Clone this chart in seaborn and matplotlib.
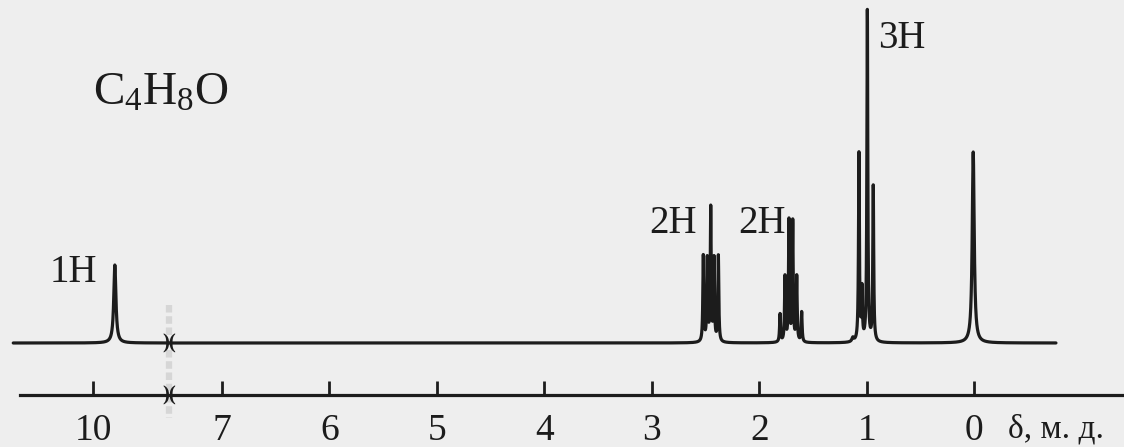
import numpy as np
import pandas as pd
import matplotlib
matplotlib.use("Agg")
import matplotlib.pyplot as plt
import seaborn as sns

# ---------------- data ----------------
# peak list of the 1H NMR spectrum: position (ppm), height (arb. units), half width (ppm)
peak_ppm    = [9.80, 2.521, 2.484, 2.452, 2.421, 2.381,
               1.807, 1.761, 1.724, 1.689, 1.652, 1.606,
               1.13, 1.073, 1.045, 0.995, 0.940, 0.01, -0.045]
peak_height = [78, 86, 82, 133, 82, 86,
               28, 65, 121, 120, 65, 30,
               4, 188, 50, 331, 155, 191, 0]
peak_hwhm   = [0.012, 0.005, 0.005, 0.005, 0.005, 0.005,
               0.005, 0.005, 0.005, 0.005, 0.005, 0.005,
               0.01, 0.005, 0.005, 0.005, 0.005, 0.011, 0.01]

# spectrum range (ppm) and the broken part of the axis
spec_ppm_max, spec_ppm_min = 10.745, -0.76
break_lo, break_hi = 7.493, 9.298          # region removed from the axis

tick_ppm = [10, 7, 6, 5, 4, 3, 2, 1, 0]
tick_labels = ["10", "7", "6", "5", "4", "3", "2", "1", "0"]
axis_label = "δ, м. д."
formula = "C$_4$H$_8$O"

multiplet_labels = ["1H", "2H", "2H", "3H"]
multiplet_label_ppm = [8.377 + (break_hi - break_lo), 2.806, 1.975, 0.675]
multiplet_label_y = [61, 110, 110, 295]

# ---------------- helpers ----------------
shift = break_hi - break_lo


def to_axis(ppm):
    ppm = np.asarray(ppm, dtype=float)
    return np.where(ppm >= break_hi, ppm - shift, ppm)


def spectrum(ppm_grid):
    y = np.zeros_like(ppm_grid)
    for p, h, w in zip(peak_ppm, peak_height, peak_hwhm):
        y += h / (1.0 + ((ppm_grid - p) / w) ** 2)
    return y


seg_hi = np.arange(spec_ppm_max, break_hi, -0.0005)
seg_lo = np.arange(break_lo, spec_ppm_min, -0.0005)
df = pd.concat([
    pd.DataFrame({"ppm": seg_hi, "segment": 0}),
    pd.DataFrame({"ppm": seg_lo, "segment": 1}),
], ignore_index=True)
df["u"] = to_axis(df["ppm"])
df["intensity"] = spectrum(df["ppm"].to_numpy())

# ---------------- style ----------------
sns.set_theme(style="white")
bg = "#eeeeee"
ink = "#1c1c1c"
plt.rcParams["font.family"] = ["Liberation Serif", "DejaVu Serif"]
plt.rcParams["mathtext.fontset"] = "custom"
plt.rcParams["mathtext.rm"] = "Liberation Serif"
plt.rcParams["mathtext.it"] = "Liberation Serif"

W, H = 1124, 447
fig = plt.figure(figsize=(W / 100, H / 100), dpi=100, facecolor=bg)
ax = fig.add_axes([0, 52 / H, 1, 395 / H])
ax.set_facecolor(bg)

px_per_ppm = 107.5
x_zero = 974.3
ax.set_xlim(x_zero / px_per_ppm, (x_zero - W) / px_per_ppm)
ax.set_ylim(-52, 343)

sns.lineplot(data=df, x="u", y="intensity", units="segment", estimator=None,
             sort=False, color=ink, linewidth=2.3, ax=ax, legend=False)

# axis
for s in ["top", "left", "right"]:
    ax.spines[s].set_visible(False)
ax.spines["bottom"].set_color(ink)
ax.spines["bottom"].set_linewidth(2.3)
ax.spines["bottom"].set_bounds((x_zero - 20) / px_per_ppm, (x_zero - W) / px_per_ppm)
ax.set_xticks(to_axis(tick_ppm))
ax.set_xticklabels(tick_labels)
ax.tick_params(axis="x", direction="in", length=10, width=2, color=ink,
               labelsize=27, labelcolor=ink, pad=13, bottom=True)
ax.set_yticks([])
ax.set_xlabel("")
ax.set_ylabel("")

fig.text(1008 / W, 1 - 437 / H, axis_label, fontsize=24, color=ink,
         ha="left", va="baseline")

# axis break marks
ub = break_lo
ax.plot([ub, ub], [38, -75], color="#d6d6d6", lw=4.5, ls=(0, (1.2, 0.6)),
        clip_on=False, zorder=1)
for yb in (0, -52):
    ax.text(ub, yb, ")(", fontsize=15, fontweight="bold", color=ink,
            ha="center", va="center", clip_on=False, zorder=5)

# labels
for lab, p, yv in zip(multiplet_labels, multiplet_label_ppm, multiplet_label_y):
    ax.text(to_axis(p), yv, lab, fontsize=28, color=ink, ha="center", va="baseline")
ax.text(to_axis(7.566), 238, formula, fontsize=34, color=ink, ha="center", va="baseline")

fig.savefig("out.png", dpi=100, facecolor=bg)
